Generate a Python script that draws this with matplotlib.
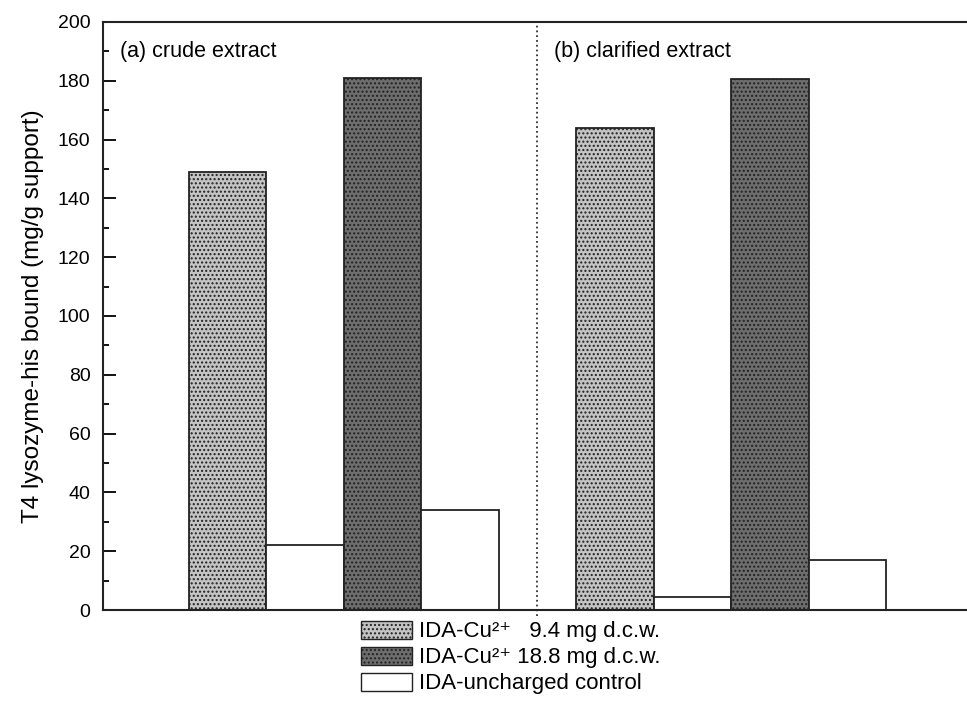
import numpy as np
import matplotlib.pyplot as plt
from matplotlib.patches import Patch
from matplotlib.ticker import MultipleLocator

plt.rcParams['font.family'] = ['Liberation Sans', 'DejaVu Sans']
plt.rcParams['hatch.color'] = '#555555'

# valores
grupos = ['(a) crude extract', '(b) clarified extract']
cu_94 = [149, 164]
cu_188 = [181, 180.5]
control_a = [22, 4.5]    # control despues de barra 9.4
control_b = [34, 17]     # control despues de barra 18.8

legend_labels = ['IDA-Cu²⁺   9.4 mg d.c.w.',
                 'IDA-Cu²⁺ 18.8 mg d.c.w.',
                 'IDA-uncharged control']

light = '#c4c4c4'
dark = '#6e6e6e'

fig = plt.figure(figsize=(9.67, 7.25), dpi=100)
ax = fig.add_axes([0.1065, 0.1586, 0.8935, 0.8111])

w = 1.0
inicio = [1.61, 6.61]
for g in range(2):
    x0 = inicio[g]
    ax.bar(x0, cu_94[g], w, color=light, edgecolor='#222222', lw=1.3, hatch='....')
    ax.bar(x0 + 1, control_a[g], w, color='white', edgecolor='#222222', lw=1.3)
    ax.bar(x0 + 2, cu_188[g], w, color=dark, edgecolor='#222222', lw=1.3, hatch='....')
    ax.bar(x0 + 3, control_b[g], w, color='white', edgecolor='#222222', lw=1.3)

ax.axvline(5.6, color='#333333', ls=':', lw=1.3, ymin=-0.01, clip_on=False)

ax.text(0.22, 190, grupos[0], fontsize=15.5, va='center')
ax.text(5.82, 190, grupos[1], fontsize=15.5, va='center')

ax.set_xlim(0, 11.15)
ax.set_ylim(0, 200)
ax.yaxis.set_major_locator(MultipleLocator(20))
ax.yaxis.set_minor_locator(MultipleLocator(10))
ax.tick_params(axis='y', which='major', direction='in', length=9, width=1.3, labelsize=14, pad=9)
ax.tick_params(axis='y', which='minor', direction='in', length=4, width=1.3)
ax.set_xticks([])
ax.spines['right'].set_visible(False)
for s in ['left', 'top', 'bottom']:
    ax.spines[s].set_linewidth(1.5)
    ax.spines[s].set_color('#222222')

ax.set_ylabel('T4 lysozyme-his bound (mg/g support)', fontsize=17.5, labelpad=10)

handles = [Patch(facecolor=light, edgecolor='#222222', hatch='....'),
           Patch(facecolor=dark, edgecolor='#222222', hatch='....'),
           Patch(facecolor='white', edgecolor='#222222')]
fig.legend(handles, legend_labels, loc='upper left', bbox_to_anchor=(0.362, 0.159),
           frameon=False, fontsize=16, handlelength=2.3, handleheight=0.85,
           handletextpad=0.3, labelspacing=0.2, borderpad=0)

fig.savefig('out.png', dpi=100)
